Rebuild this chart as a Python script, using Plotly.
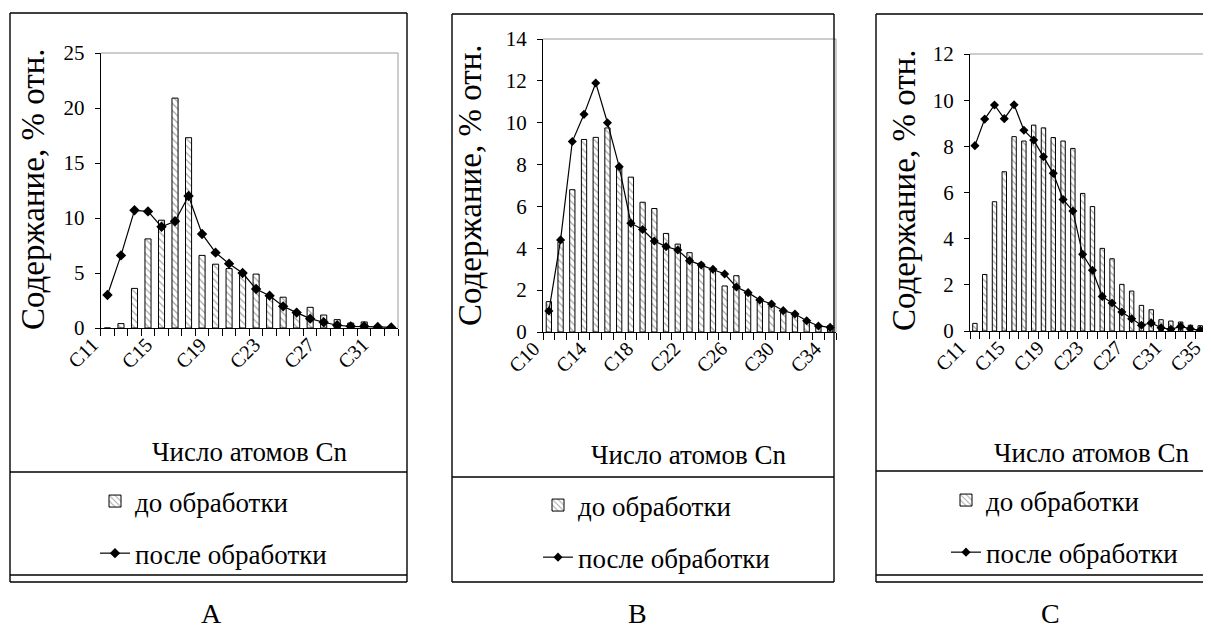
import plotly.graph_objects as go

OFF = 8                      # page body margin of the html page
W, H = 1211 - OFF, 632 - OFF
FONT = '"Liberation Serif", "Times New Roman", serif'

# ---------------- data ----------------
cats_A = ["C11", "C12", "C13", "C14", "C15", "C16", "C17", "C18", "C19", "C20", "C21",
          "C22", "C23", "C24", "C25", "C26", "C27", "C28", "C29", "C30", "C31", "C32"]
before_A = [0.0, 0.4, 3.6, 8.1, 9.8, 20.9, 17.3, 6.6, 5.8, 5.4, 5.0,
            4.9, 3.0, 2.8, 1.5, 1.88, 1.18, 0.76, 0.45, 0.55, 0.2, 0.1]
after_A = [3.0, 6.6, 10.7, 10.6, 9.2, 9.7, 12.0, 8.55, 6.85, 5.85, 5.0,
           3.55, 2.94, 1.97, 1.4, 0.85, 0.52, 0.25, 0.15, 0.15, 0.1, 0.05]

cats_B = ["C10", "C11", "C12", "C13", "C14", "C15", "C16", "C17", "C18", "C19", "C20", "C21", "C22",
          "C23", "C24", "C25", "C26", "C27", "C28", "C29", "C30", "C31", "C32", "C33", "C34"]
before_B = [1.45, 4.3, 6.8, 9.2, 9.3, 9.75, 7.9, 7.4, 6.2, 5.9, 4.71, 4.2, 3.79,
            3.3, 3.0, 2.2, 2.69, 1.85, 1.45, 1.25, 0.97, 0.8, 0.5, 0.33, 0.3]
after_B = [1.0, 4.4, 9.1, 10.4, 11.9, 10.0, 7.9, 5.2, 4.9, 4.35, 4.08, 3.92, 3.41,
           3.2, 3.0, 2.77, 2.15, 1.88, 1.53, 1.34, 1.02, 0.86, 0.54, 0.29, 0.22]

cats_C = ["C11", "C12", "C13", "C14", "C15", "C16", "C17", "C18", "C19", "C20", "C21", "C22", "C23",
          "C24", "C25", "C26", "C27", "C28", "C29", "C30", "C31", "C32", "C33", "C34", "C35"]
before_C = [0.33, 2.45, 5.6, 6.9, 8.42, 8.23, 8.92, 8.8, 8.38, 8.23, 7.91, 5.96, 5.39,
            3.58, 3.13, 2.02, 1.73, 1.11, 0.92, 0.49, 0.43, 0.39, 0.25, 0.23, 0.15]
after_C = [8.03, 9.18, 9.79, 9.2, 9.8, 8.7, 8.27, 7.55, 6.83, 5.7, 5.2, 3.32, 2.63,
           1.5, 1.21, 0.82, 0.53, 0.25, 0.35, 0.14, 0.07, 0.2, 0.09, 0.03, 0.1]

name_before = "до обработки"
name_after = "после обработки"
y_title = "Содержание, % отн."
x_title = "Число атомов Cn"
panel_letters = ["А", "В", "С"]


def px(x):
    return min(1.0, max(0.0, (x - OFF) / W))


def py(y):
    return min(1.0, max(0.0, 1 - (y - OFF) / H))


fig = go.Figure()

panels = [
    dict(s="", cats=cats_A, b=before_A, a=after_A, xd=(100.7, 398), yd=(53, 328), ymax=25, dt=5,
         xend=None, ms=8, leg=(95, 477), ytx=33, yty=189, xtx=250, xty=452, lx=211),
    dict(s="2", cats=cats_B, b=before_B, a=after_B, xd=(543, 836), yd=(39, 332), ymax=14, dt=2,
         xend=None, ms=7, leg=(538, 481), ytx=470, yty=185, xtx=689, xty=455, lx=637),
    dict(s="3", cats=cats_C, b=before_C, a=after_C, xd=(970, 1211), yd=(54, 331), ymax=12, dt=2,
         xend=24.1, ms=7, leg=(946, 476), ytx=904, yty=190, xtx=1092, xty=453, lx=1050),
]

shapes = []
annotations = []
layout = {}

for i, p in enumerate(panels):
    s = p["s"]
    xa = "x" + s
    ya = "y" + s
    lg = "legend" + s
    n = len(p["cats"])
    xs = list(range(n))
    fig.add_trace(go.Bar(
        x=xs, y=p["b"], name=name_before, width=0.45,
        marker=dict(color="white", line=dict(color="black", width=1),
                    pattern=dict(shape="\\", fgcolor="#505050", bgcolor="white", size=5, solidity=0.25)),
        xaxis=xa, yaxis=ya, legend=lg, legendgroup=f"b{i}", showlegend=True,
    ))
    fig.add_trace(go.Scatter(
        x=xs, y=p["a"], name=name_after, mode="lines+markers",
        line=dict(color="black", width=1.2),
        marker=dict(symbol="diamond", size=p["ms"], color="black"),
        xaxis=xa, yaxis=ya, legend=lg, legendgroup=f"a{i}", showlegend=True,
    ))
    xend = p["xend"] if p["xend"] is not None else n - 0.5
    layout["xaxis" + s] = dict(
        domain=[px(p["xd"][0]), px(p["xd"][1])], anchor=ya, range=[-0.5, xend], automargin=False,
        tickmode="array", tickvals=xs[::4], ticktext=p["cats"][::4], tickangle=-45,
        ticks="", showline=True, linecolor="black", linewidth=1, showgrid=False, zeroline=False,
        tickfont=dict(family=FONT, size=20, color="black"),
        minor=dict(tickmode="array", tickvals=[k - 0.5 for k in range(n + 1)], ticks="outside",
                   ticklen=7, tickcolor="black", tickwidth=1, showgrid=False),
        ticklabelshift=-15, ticklabelstandoff=-4, fixedrange=True,
    )
    layout["yaxis" + s] = dict(
        domain=[py(p["yd"][1]), py(p["yd"][0])], anchor=xa, range=[0, p["ymax"]], dtick=p["dt"],
        automargin=False,
        ticks="outside", ticklen=5, tickcolor="black", showline=True, linecolor="black", linewidth=1,
        showgrid=False, zeroline=False, tickfont=dict(family=FONT, size=21, color="black"),
        ticklabelstandoff=6, fixedrange=True,
    )
    layout[lg] = dict(
        x=px(p["leg"][0]), y=py(p["leg"][1]), xanchor="left", yanchor="top",
        bgcolor="rgba(0,0,0,0)", borderwidth=0, traceorder="grouped", tracegroupgap=14,
        font=dict(family=FONT, size=27, color="black"),
    )
    shapes.append(dict(type="line", xref=xa + " domain", yref=ya + " domain", x0=0, x1=1, y0=1, y1=1,
                       line=dict(color="#9a9a9a", width=1)))
    if s != "3":
        shapes.append(dict(type="line", xref=xa + " domain", yref=ya + " domain", x0=1, x1=1, y0=0, y1=1,
                           line=dict(color="#9a9a9a", width=1)))
    annotations.append(dict(text=y_title, textangle=-90, x=px(p["ytx"]), y=py(p["yty"]), xref="paper",
                            yref="paper", xanchor="center", yanchor="middle", showarrow=False,
                            font=dict(family=FONT, size=33, color="black")))
    annotations.append(dict(text=x_title, x=px(p["xtx"]), y=py(p["xty"]), xref="paper", yref="paper",
                            xanchor="center", yanchor="middle", showarrow=False,
                            font=dict(family=FONT, size=27, color="black")))
    annotations.append(dict(text=panel_letters[i], x=px(p["lx"]), y=py(630), xref="paper", yref="paper",
                            xanchor="center", yanchor="bottom", showarrow=False, borderpad=0,
                            font=dict(family=FONT, size=28, color="black")))

BL = dict(color="black", width=1.4)


def hline(x0, x1, y):
    shapes.append(dict(type="line", xref="paper", yref="paper", x0=px(x0), x1=px(x1), y0=py(y), y1=py(y), line=BL))


def vline(x, y0, y1):
    shapes.append(dict(type="line", xref="paper", yref="paper", x0=px(x), x1=px(x), y0=py(y0), y1=py(y1), line=BL))


# A
hline(10, 407, 13); hline(10, 407, 472); hline(10, 407, 575); hline(10, 407, 582)
vline(10, 13, 582); vline(407, 13, 582)
# B
hline(452, 834, 14); hline(452, 834, 477); hline(452, 834, 582)
vline(452, 14, 582); vline(834, 14, 582)
# C
hline(876, 1211, 14); hline(876, 1211, 471); hline(876, 1211, 575); hline(876, 1211, 582)
vline(876, 14, 582)

fig.update_layout(
    width=W, height=H, margin=dict(l=0, r=0, t=0, b=0, autoexpand=False),
    paper_bgcolor="white", plot_bgcolor="white", bargap=0.5,
    font=dict(family=FONT, color="black"),
    shapes=shapes, annotations=annotations, **layout,
)

fig.write_html("out.html")
